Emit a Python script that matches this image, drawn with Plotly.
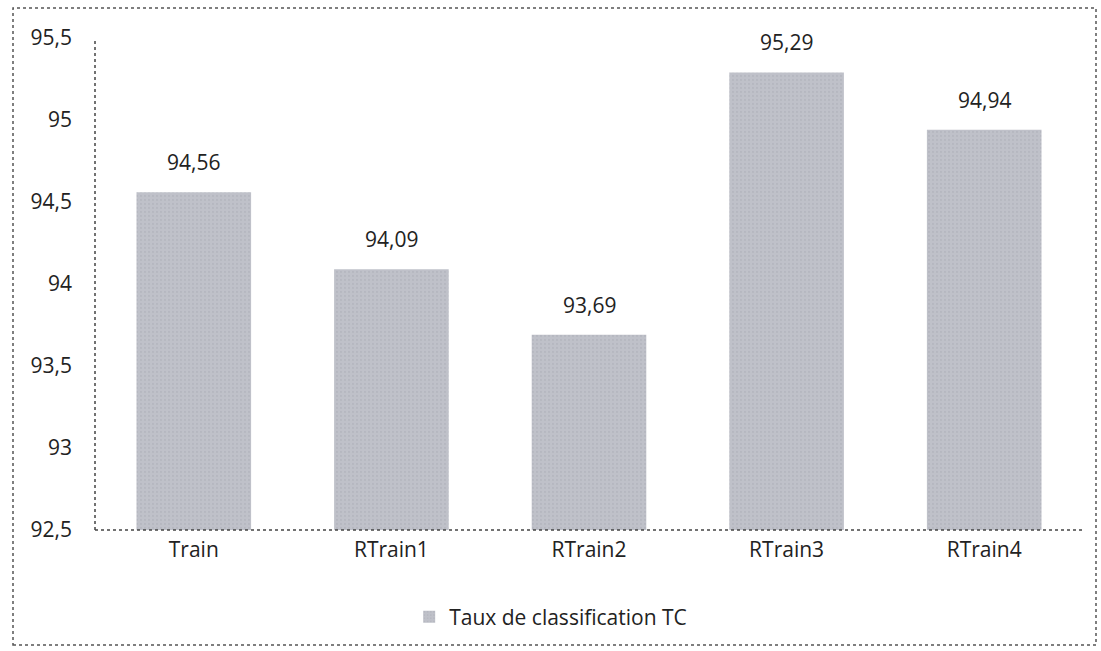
import plotly.graph_objects as go

categories = ["Train", "RTrain1", "RTrain2", "RTrain3", "RTrain4"]
values = [94.56, 94.09, 93.69, 95.29, 94.94]
series_name = "Taux de classification TC"
y_ticks = [92.5, 93, 93.5, 94, 94.5, 95, 95.5]

FONT = "Open Sans, Lato, sans-serif"
FS = 21
W, H = 1101, 651
L, R, T, B = 95, 18, 38, 121

fig = go.Figure()
fig.add_trace(go.Bar(
    x=categories, y=values, name=series_name,
    marker=dict(color="#bfc1c9", line=dict(width=0),
                pattern=dict(shape=".", fgcolor="#acaeb7", size=4, solidity=0.25)),
    width=0.58,
    showlegend=True,
))

for c, v in zip(categories, values):
    fig.add_annotation(x=c, y=v, text=f"{v:.2f}".replace(".", ","),
                       showarrow=False, yanchor="bottom", yshift=14,
                       font=dict(size=FS, color="#222", family=FONT))

fig.update_layout(
    width=W, height=H,
    margin=dict(l=L, r=R, t=T, b=B),
    paper_bgcolor="white", plot_bgcolor="white",
    separators=", ",
    font=dict(family=FONT, size=FS, color="#222"),
    bargap=0.42,
    xaxis=dict(showgrid=False, showline=False, ticks="", tickfont=dict(size=FS),
               ticklabelstandoff=5),
    yaxis=dict(range=[92.5, 95.5], tickvals=y_ticks, showgrid=False, showline=False,
               ticks="", zeroline=False, tickfont=dict(size=FS), ticklabelstandoff=22),
    legend=dict(orientation="h", x=0.318, xanchor="left", y=-0.177, yanchor="middle",
                font=dict(size=FS), itemwidth=30),
    shapes=[
        dict(type="line", xref="paper", yref="paper", x0=0, x1=0, y0=0, y1=1,
             line=dict(color="#444", width=1.5, dash="dot")),
        dict(type="line", xref="paper", yref="paper", x0=0, x1=1, y0=0, y1=0,
             line=dict(color="#444", width=1.5, dash="dot")),
        dict(type="rect", xref="paper", yref="paper",
             x0=(13 - L) / (W - L - R), x1=(1096 - L) / (W - L - R),
             y0=(H - B - 645) / (H - T - B), y1=(H - B - 8) / (H - T - B),
             line=dict(color="#555", width=1.5, dash="dot")),
    ],
)

fig.write_html("out.html")
